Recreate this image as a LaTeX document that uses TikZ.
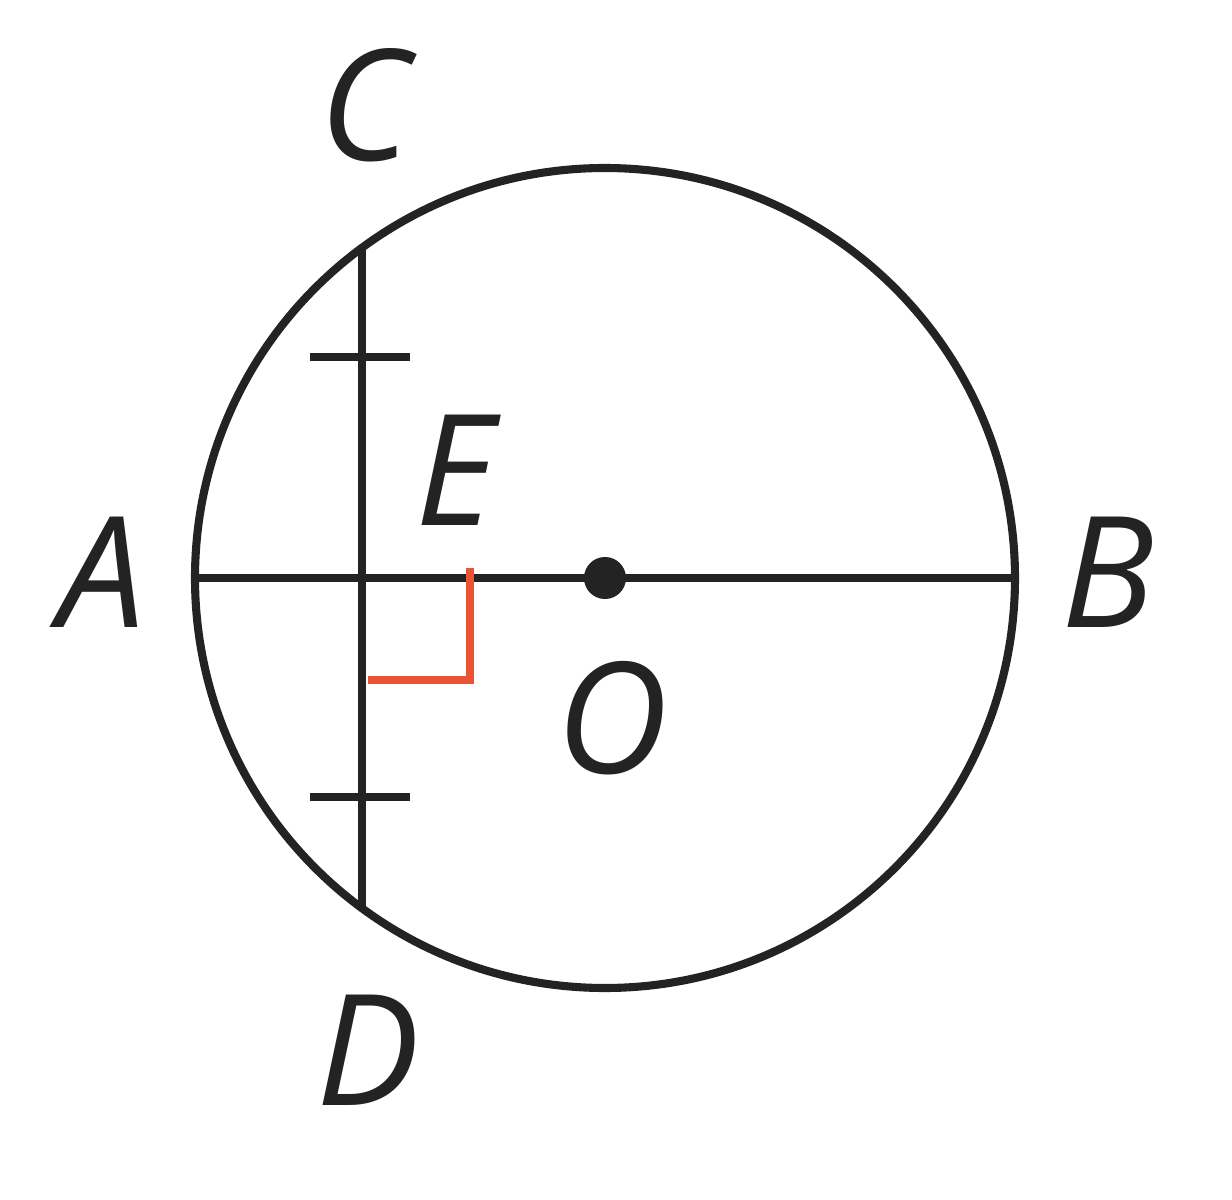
\documentclass[tikz,border=0pt]{standalone}
\usepackage{fontspec}
\setmainfont{Open Sans}
\definecolor{mark}{RGB}{232,84,52}
\definecolor{ink}{RGB}{35,35,35}
\begin{document}
\begin{tikzpicture}[x=0.01cm,y=-0.01cm,line width=2pt,draw=ink,
  lbl/.style={font=\fontsize{44}{48}\selectfont\itshape, inner sep=0pt, text=ink},
  tick/.style={line width=2pt},
  rightmark/.style={draw=mark, line width=2pt}]
\useasboundingbox (0,0) rectangle (1232,1200);
\coordinate (Oc) at (605,578);
\coordinate (A) at (195,578);
\coordinate (B) at (1015,578);
\coordinate (C) at (362,248);
\coordinate (D) at (362,908);
\coordinate (E) at (362,578);
\coordinate (T1a) at (310,357);
\coordinate (T1b) at (410,357);
\coordinate (T2a) at (310,797);
\coordinate (T2b) at (410,797);
\coordinate (R1) at (368,680);
\coordinate (R2) at (470,680);
\coordinate (R3) at (470,568);
\draw[line width=2.3pt] (Oc) circle[radius=410];
\draw (A) -- (B);
\draw (C) -- (D);
\draw[tick] (T1a) -- (T1b);
\draw[tick] (T2a) -- (T2b);
\draw[rightmark] (R1) -- (R2) -- (R3);
\node[circle, fill=ink, minimum size=0.42cm, inner sep=0pt] (O) at (Oc) {};
\node[lbl] (lC) at (365,105) {C};
\node[lbl] (lE) at (455,470) {E};
\node[lbl] (lA) at (102,572) {A};
\node[lbl] (lB) at (1108,572) {B};
\node[lbl] (lO) at (612,718) {O};
\node[lbl] (lD) at (368,1050) {D};
\end{tikzpicture}
\end{document}
